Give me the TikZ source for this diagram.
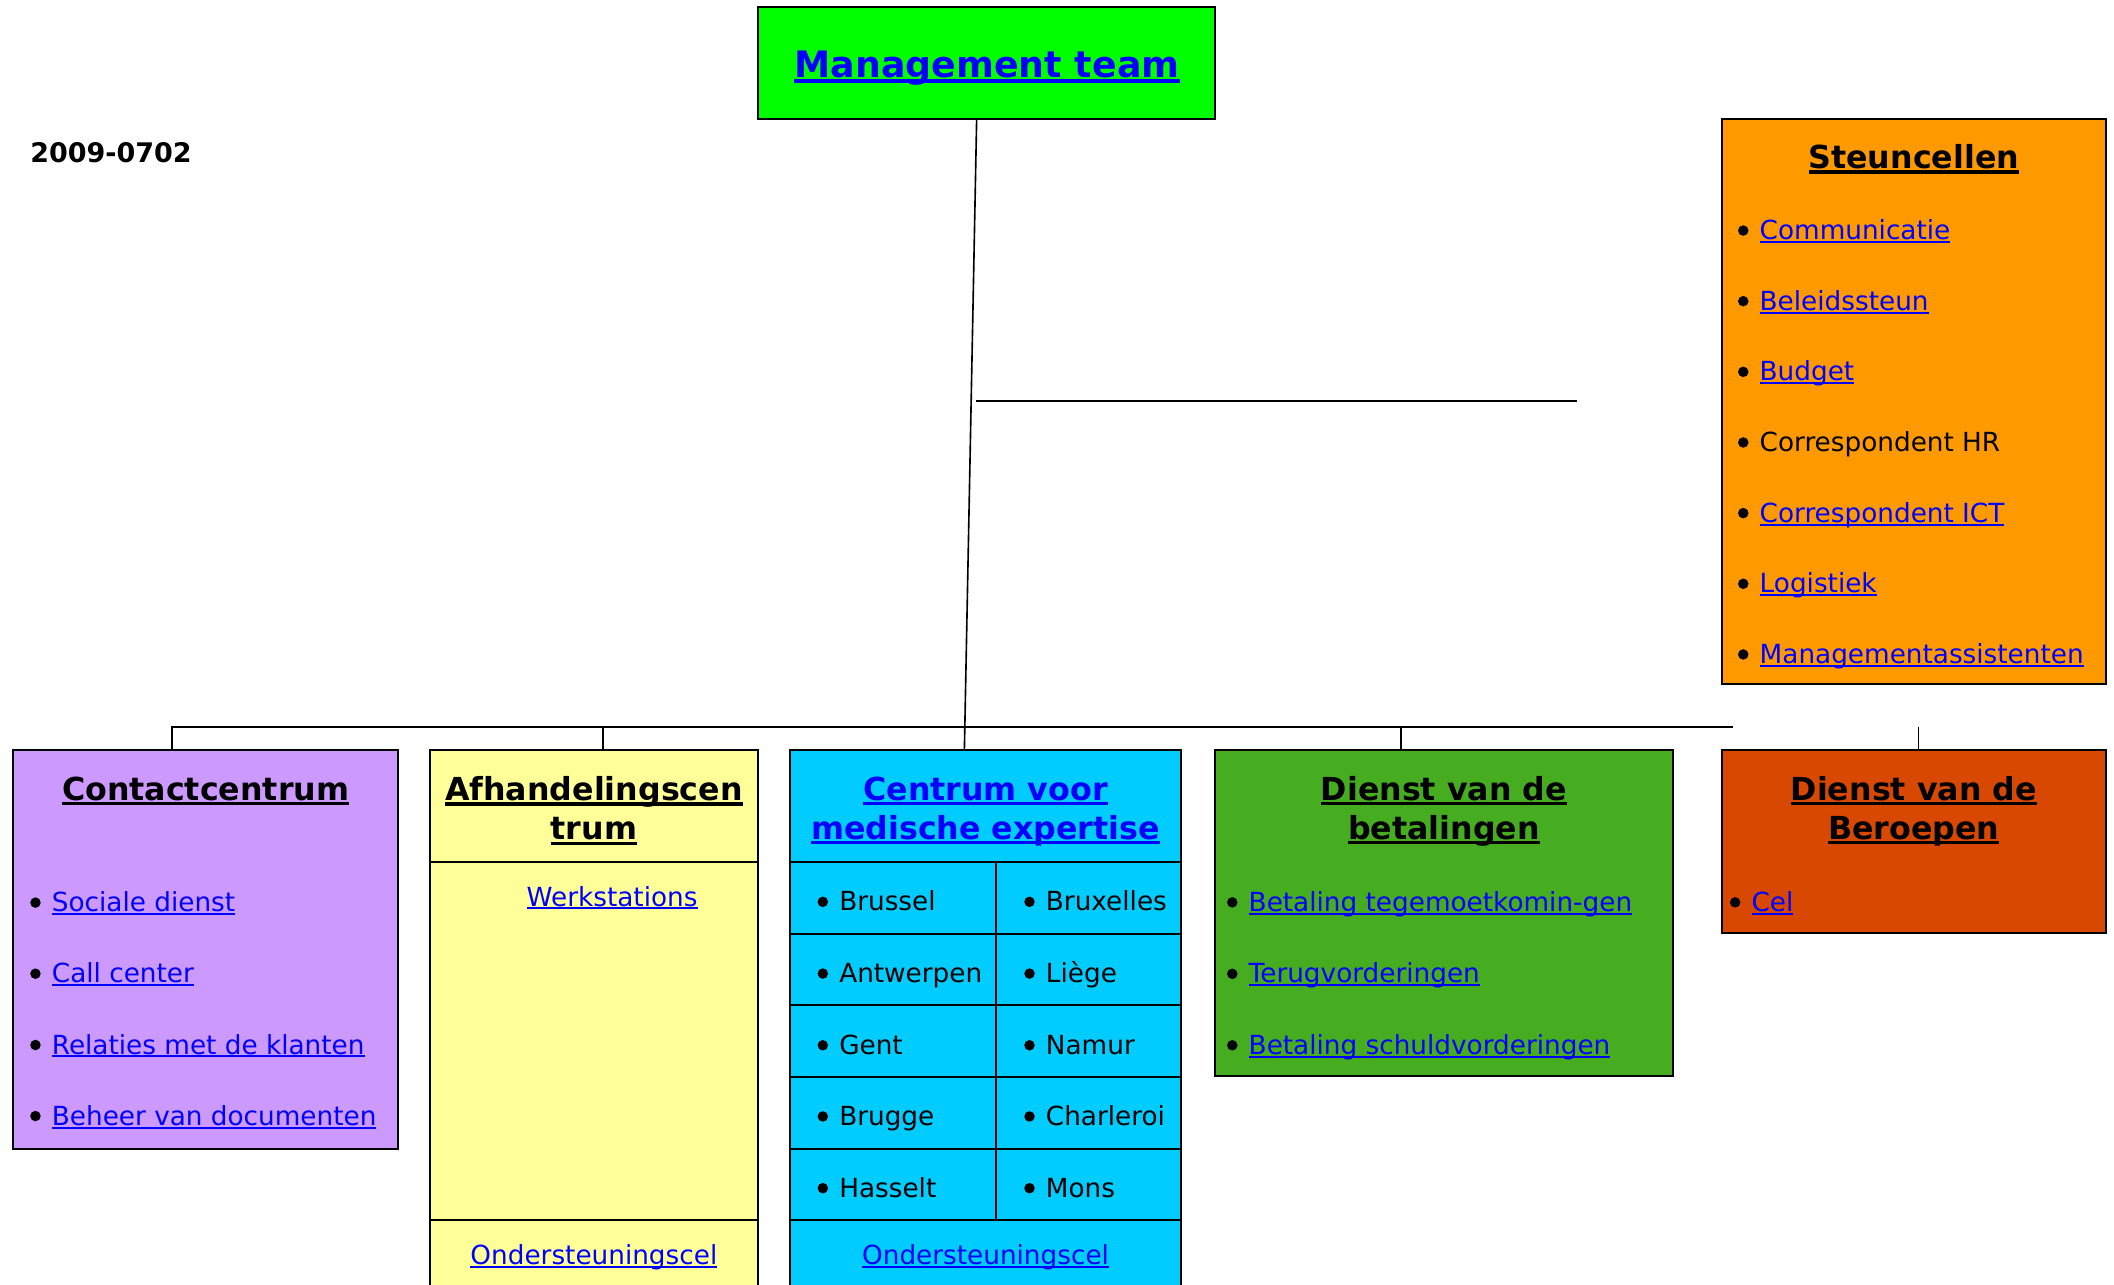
\documentclass[tikz,border=0pt]{standalone}
\usepackage{fontspec}
\setmainfont{DejaVu Sans}
\definecolor{mgreen}{RGB}{0,255,0}
\definecolor{orng}{RGB}{255,153,0}
\definecolor{lav}{RGB}{204,153,255}
\definecolor{ylw}{RGB}{255,255,153}
\definecolor{cyn}{RGB}{0,204,255}
\definecolor{grn}{RGB}{70,173,33}
\definecolor{rdo}{RGB}{216,72,0}
\definecolor{lnk}{RGB}{0,0,255}
\newcommand\ulr[1]{\sbox0{#1}\rlap{\rule[-0.13em]{\wd0}{0.075em}}\usebox0}
\newcommand\ulb[1]{\sbox0{#1}\rlap{\rule[-0.16em]{\wd0}{0.11em}}\usebox0}
\newcommand\lk[1]{\textcolor{lnk}{\ulr{#1}}}
\begin{document}
\begin{tikzpicture}[x=1pt,y=-1pt,
  box/.style={draw=black, line width=1.5pt, inner sep=0pt, outer sep=0pt, anchor=north west, rectangle},
  con/.style={draw=black, line width=1.2pt},
  sep/.style={draw=black, line width=1.5pt},
  itm/.style={inner sep=0pt, anchor=base west, font=\fontsize{19.5}{23}\selectfont},
  itc/.style={inner sep=0pt, anchor=base, font=\fontsize{19.5}{23}\selectfont},
  hd/.style={inner sep=0pt, anchor=base, font=\bfseries\fontsize{23.5}{28}\selectfont},
]
\useasboundingbox (0,0) rectangle (1568,953);
\clip (0,0) rectangle (1568,953);

% connector coordinates
\coordinate (mvTop) at (724.4,88);
\coordinate (mvBot) at (715.3,556);
\coordinate (hL) at (724.2,297.5);
\coordinate (hR) at (1170,297.5);
\coordinate (busL) at (127.7,539);
\coordinate (busR) at (1285.6,539);
\coordinate (dAfh) at (447.4,539);
\coordinate (dBet) at (1039,539);
\coordinate (dBer) at (1423,539);

% boxes
\node[box, fill=mgreen, minimum width=339pt, minimum height=83pt] (mgmt) at (562,5) {};
\node[box, fill=orng, minimum width=285pt, minimum height=419pt] (steun) at (1277,88) {};
\node[box, fill=lav, minimum width=285pt, minimum height=296pt] (cc) at (10,556) {};
\node[box, fill=ylw, minimum width=243pt, minimum height=430pt] (afh) at (319,556) {};
\node[box, fill=cyn, minimum width=290pt, minimum height=430pt] (cme) at (586,556) {};
\node[box, fill=grn, minimum width=340pt, minimum height=242pt] (bet) at (901,556) {};
\node[box, fill=rdo, minimum width=285pt, minimum height=136pt] (ber) at (1277,556) {};

\draw[con] (mvTop) -- (mvBot);
\draw[con] (hL) -- (hR);
\draw[con] (busL |- cc.north) -- (busL) -- (busR);
\draw[con] (dAfh) -- (dAfh |- afh.north);
\draw[con] (dBet) -- (dBet |- bet.north);
\draw[con] (dBer) -- (dBer |- ber.north);

% internal separators
\draw[sep] (319,639.5) -- (562,639.5);
\draw[sep] (319,904.8) -- (562,904.8);
\foreach \yy in {639.6,692.8,745.4,798.8,852.2,904.8}
  \draw[sep] (586,\yy) -- (876,\yy);
\draw[sep] (738.8,639.6) -- (738.8,904.8);

% texts
\node[inner sep=0pt, anchor=base, font=\bfseries\fontsize{27}{32}\selectfont, text=lnk] (mgmtT) at (732,57.4) {\ulb{Management team}};
\node[inner sep=0pt, anchor=base west, font=\bfseries\fontsize{20}{24}\selectfont] (date) at (22.3,120.7) {2009-0702};

\node[hd] (steunT) at (1419.5,125) {\ulb{Steuncellen}};
\node[itm] (s1) at (1305,177.7) {\lk{Communicatie}};
\node[itm] (s2) at (1305,230.1) {\lk{Beleidssteun}};
\node[itm] (s3) at (1305,282.5) {\lk{Budget}};
\node[itm] (s4) at (1305,334.9) {Correspondent HR};
\node[itm] (s5) at (1305,387.3) {\lk{Correspondent ICT}};
\node[itm] (s6) at (1305,439.7) {\lk{Logistiek}};
\node[itm] (s7) at (1305,492.1) {\lk{Managementassistenten}};

\node[hd] (ccT) at (152.5,593.4) {\ulb{Contactcentrum}};
\node[itm] (c1) at (38.3,676.2) {\lk{Sociale dienst}};
\node[itm] (c2) at (38.3,728.9) {\lk{Call center}};
\node[itm] (c3) at (38.3,781.8) {\lk{Relaties met de klanten}};
\node[itm] (c4) at (38.3,834.5) {\lk{Beheer van documenten}};

\node[hd] (afhT1) at (440.5,594) {\ulb{Afhandelingscen}};
\node[hd] (afhT2) at (440.5,623) {\ulb{trum}};
\node[itc] (afhW) at (454,672) {\lk{Werkstations}};
\node[itc] (afhO) at (440.5,937.6) {\lk{Ondersteuningscel}};

\node[hd, text=lnk] (cmeT1) at (731,593.5) {\ulb{Centrum voor}};
\node[hd, text=lnk] (cmeT2) at (731,622.5) {\ulb{medische expertise}};
\node[itm] (m1) at (622.3,675.6) {Brussel};
\node[itm] (m2) at (622.3,728.8) {Antwerpen};
\node[itm] (m3) at (622.3,782) {Gent};
\node[itm] (m4) at (622.3,834.8) {Brugge};
\node[itm] (m5) at (622.3,888) {Hasselt};
\node[itm] (n1) at (775.6,675.6) {Bruxelles};
\node[itm] (n2) at (775.6,728.8) {Liège};
\node[itm] (n3) at (775.6,782) {Namur};
\node[itm] (n4) at (775.6,834.8) {Charleroi};
\node[itm] (n5) at (775.6,888) {Mons};
\node[itc] (cmeO) at (731,937.6) {\lk{Ondersteuningscel}};

\node[hd] (betT1) at (1071,593.5) {\ulb{Dienst van de}};
\node[hd] (betT2) at (1071,622.5) {\ulb{betalingen}};
\node[itm] (b1) at (926,676) {\lk{Betaling tegemoetkomin-gen}};
\node[itm] (b2) at (926,729) {\lk{Terugvorderingen}};
\node[itm] (b3) at (926,782) {\lk{Betaling schuldvorderingen}};

\node[hd] (berT1) at (1419.5,593.5) {\ulb{Dienst van de}};
\node[hd] (berT2) at (1419.5,622.5) {\ulb{Beroepen}};
\node[itm] (r1) at (1299,676) {\lk{Cel}};

% bullets
\foreach \nm in {s1,s2,s3,s4,s5,s6,s7,c1,c2,c3,c4,m1,m2,m3,m4,m5,n1,n2,n3,n4,n5,b1,b2,b3,r1}
  \fill ([shift={(-12,-6.7)}]\nm.base west) circle[radius=3.9pt];
\end{tikzpicture}
\end{document}
